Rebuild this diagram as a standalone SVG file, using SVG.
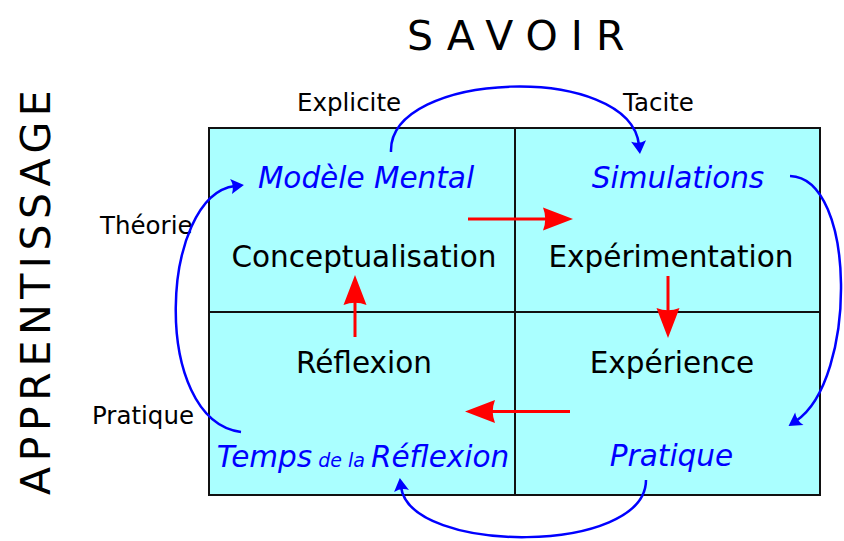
<svg xmlns="http://www.w3.org/2000/svg" width="844" height="541" viewBox="0 0 844 541">
<style>
  text { font-family: "DejaVu Sans", Verdana, sans-serif; }
  .title { font-size: 41px; fill: #000; }
  .main { font-size: 29.5px; fill: #000; text-anchor: middle; }
  .sub { font-size: 29.5px; fill: #0000ff; font-style: italic; text-anchor: middle; }
  .lbl { font-size: 24.5px; fill: #000; }
  .blue { fill: none; stroke: #0000ff; stroke-width: 2.5; marker-end: url(#blueHead); }
  .red { fill: none; stroke: #ff0000; stroke-width: 3; marker-end: url(#redHead); }
  .cell { fill: #aaffff; stroke: none; }
  .grid { fill: none; stroke: #111; stroke-width: 2; }
</style>
<defs>
  <marker id="redHead" markerUnits="userSpaceOnUse" viewBox="-2 -14 34 28" markerWidth="34" markerHeight="28" refX="3" refY="0" orient="auto">
    <path d="M30,0 L0,-11.5 Q4.5,0 0,11.5 Z" fill="#ff0000"/>
  </marker>
  <marker id="blueHead" markerUnits="userSpaceOnUse" viewBox="-2 -10 17 20" markerWidth="17" markerHeight="20" refX="4" refY="0" orient="auto">
    <path d="M13,0 L0,-7.5 Q3.5,0 0,7.5 Z" fill="#0000ff"/>
  </marker>
</defs>
<rect width="844" height="541" fill="#ffffff"/>

<g id="titles">
  <text class="title" x="407" y="50" letter-spacing="13">SAVOIR</text>
  <text class="title" transform="translate(50,495) rotate(-90)" letter-spacing="5.6">APPRENTISSAGE</text>
</g>

<g id="axis-labels">
  <text class="lbl" x="297" y="111">Explicite</text>
  <text class="lbl" x="623" y="111">Tacite</text>
  <text class="lbl" x="100" y="234">Théorie</text>
  <text class="lbl" x="92" y="424">Pratique</text>
</g>

<g id="grid">
  <rect class="cell" x="209" y="128" width="611" height="367"/>
</g>

<g id="q-conceptualisation">
  <text class="sub" x="366" y="188">Modèle Mental</text>
  <text class="main" x="364" y="267">Conceptualisation</text>
</g>
<g id="q-experimentation">
  <text class="sub" x="678" y="188">Simulations</text>
  <text class="main" x="671" y="267">Expérimentation</text>
</g>
<g id="q-reflexion">
  <text class="main" x="364" y="373">Réflexion</text>
  <text class="sub" x="363" y="467">Temps<tspan font-size="19"> de la </tspan>Réflexion</text>
</g>
<g id="q-experience">
  <text class="main" x="672" y="373">Expérience</text>
  <text class="sub" x="671.5" y="466">Pratique</text>
</g>

<g id="grid-lines">
  <rect class="grid" x="209" y="128" width="611" height="367"/>
  <line class="grid" x1="515" y1="128" x2="515" y2="495"/>
  <line class="grid" x1="209" y1="312" x2="820" y2="312"/>
</g>

<g id="connectors">
  <line class="red" x1="468" y1="219" x2="546" y2="219"/>
  <line class="red" x1="668" y1="276" x2="668" y2="311"/>
  <line class="red" x1="570" y1="411.5" x2="492" y2="411.5"/>
  <line class="red" x1="355" y1="337" x2="355" y2="302"/>
  <path class="blue" d="M391,152 C388,70 630,62 639,145"/>
  <path class="blue" d="M790,176 C857,178 857,380 796,421"/>
  <path class="blue" d="M646,480 C646,555 410,555 401,487"/>
  <path class="blue" d="M241,432 C150,420 160,195 235,186"/>
</g>
</svg>
